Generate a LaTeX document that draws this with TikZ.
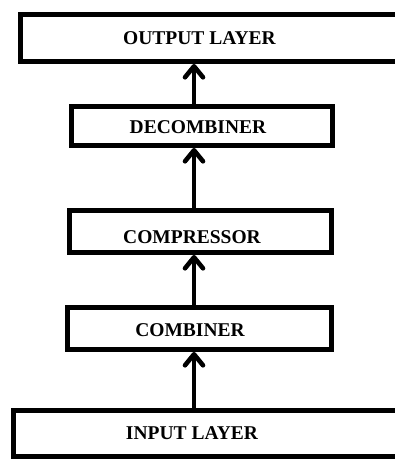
\documentclass[tikz,border=0pt]{standalone}
\usepackage{fontspec}
\setmainfont{Liberation Serif}
\usetikzlibrary{arrows.meta}
\begin{document}
\begin{tikzpicture}[x=1pt,y=-1pt,
  layerbox/.style={draw=black,line width=5pt,fill=white,inner sep=0pt},
  layertext/.style={inner sep=0pt,font=\fontsize{19.5}{20}\selectfont\bfseries},
  flow/.style={line width=4.6pt,-{Straight Barb[length=11pt,width=18pt,line cap=round,line join=round]}}]
\useasboundingbox (0,0) rectangle (395,460);
\begin{scope}
\clip (0,0) rectangle (395,460);
% stacked processing stages
\node[layerbox,minimum width=379pt,minimum height=47pt] (out) at (210,38) {};
\node[layerbox,minimum width=261pt,minimum height=39pt] (dec) at (202,126) {};
\node[layerbox,minimum width=262pt,minimum height=42pt] (cmp) at (200.5,231.5) {};
\node[layerbox,minimum width=264pt,minimum height=42pt] (cmb) at (199.5,328.5) {};
\node[layerbox,minimum width=386pt,minimum height=46pt] (inp) at (206.5,433.5) {};
% stage names
\node[layertext] (outT) at (199.5,38) {OUTPUT LAYER};
\node[layertext] (decT) at (198,127) {DECOMBINER};
\node[layertext] (cmpT) at (192,237) {COMPRESSOR};
\node[layertext] (cmbT) at (190,330) {COMBINER};
\node[layertext] (inpT) at (192,433.5) {INPUT LAYER};
% data flow, bottom to top
\coordinate (ax) at (194,0);
\draw[flow] (inp.north -| ax) -- (cmb.south -| ax);
\draw[flow] (cmb.north -| ax) -- (cmp.south -| ax);
\draw[flow] (cmp.north -| ax) -- (dec.south -| ax);
\draw[flow] (dec.north -| ax) -- (out.south -| ax);
\end{scope}
\end{tikzpicture}
\end{document}
